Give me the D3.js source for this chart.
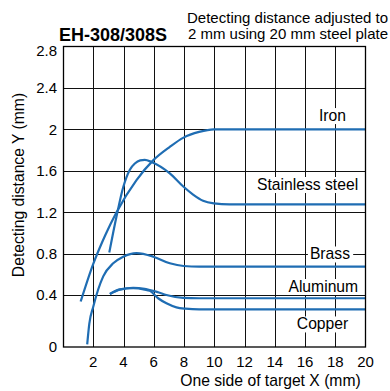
<!DOCTYPE html>
<html>
<head>
<meta charset="utf-8">
<script src="https://cdn.jsdelivr.net/npm/d3@7/dist/d3.min.js"></script>
<style>
  html, body { margin: 0; padding: 0; background: #fff; }
  svg { display: block; }
  text { font-family: "Liberation Sans", Arial, Helvetica, sans-serif; fill: #000; }
</style>
</head>
<body>
<svg id="chart" width="390" height="391"></svg>
<script>
// ---- data ----
const title = "EH-308/308S";
const subtitle = ["Detecting distance adjusted to", "2 mm using 20 mm steel plate"];
const xTitle = "One side of target X (mm)";
const yTitle = "Detecting distance Y (mm)";
const xTicks = [2, 4, 6, 8, 10, 12, 14, 16, 18, 20];
const yTicks = [0, 0.4, 0.8, 1.2, 1.6, 2, 2.4, 2.8];
const yTickLabels = ["0", "0.4", "0.8", "1.2", "1.6", "2", "2.4", "2.8"];
const seriesNames = ["Iron", "Stainless steel", "Brass", "Aluminum", "Copper"];

const iron = [[1.17,0.35],[2,0.70],[2.8,0.98],[3.54,1.20],[4.86,1.51],[5.96,1.70],[7.06,1.83],[7.97,1.92],[9,1.975],[9.97,2.0],[20,2.0]];
const stainless = [[3.06,0.81],[3.54,1.16],[3.98,1.44],[4.42,1.61],[4.75,1.67],[5.1,1.70],[5.41,1.705],[5.85,1.685],[7.06,1.575],[7.97,1.445],[8.6,1.37],[9.26,1.31],[9.97,1.285],[11,1.275],[20,1.275]];
const brass = [[1.6,0.02],[1.74,0.18],[2,0.31],[2.66,0.58],[3.32,0.706],[3.98,0.77],[4.86,0.805],[5.98,0.77],[7.06,0.706],[7.97,0.68],[9,0.675],[20,0.675]];
const aluminum = [[3.1,0.41],[3.76,0.455],[4.64,0.47],[5.4,0.46],[6.29,0.426],[6.84,0.40],[7.94,0.378],[9,0.375],[20,0.375]];
const copper = [[3.1,0.41],[3.76,0.452],[4.64,0.465],[5.4,0.452],[5.74,0.44],[6.29,0.375],[6.84,0.336],[7.5,0.305],[8.1,0.295],[9,0.29],[20,0.29]];
const seriesValues = [iron, stainless, brass, aluminum, copper];
// label anchor points, in data units (x center, y baseline)
const labelX = [17.82, 16.17, 17.65, 17.21, 17.16];
const labelY = [2.08, 1.414, 0.743, 0.429, 0.135];

// ---- layout ----
const svg = d3.select("#chart");
const pLeft = 63, pRight = 365.5, pTop = 46.5, pBottom = 347;
const x = d3.scaleLinear().domain([0, 20]).range([pLeft, pRight]);
// the reference axis has a taller first interval (0 to 0.4)
const y = d3.scaleLinear().domain([0, 0.4, 2.8]).range([pBottom, 295, pTop]);
const blue = "#1f6db3";

// grid
const grid = svg.append("g").attr("shape-rendering", "crispEdges");
grid.selectAll("line.v").data(xTicks.filter(d => d < 20)).join("line")
  .attr("x1", d => Math.round(x(d)) + 0.5).attr("x2", d => Math.round(x(d)) + 0.5)
  .attr("y1", y(2.8)).attr("y2", y(0))
  .attr("stroke", "#111").attr("stroke-width", 1);
grid.selectAll("line.h").data(yTicks.filter(d => d > 0 && d < 2.8)).join("line")
  .attr("y1", d => Math.round(y(d)) + 0.5).attr("y2", d => Math.round(y(d)) + 0.5)
  .attr("x1", x(0)).attr("x2", x(20))
  .attr("stroke", "#111").attr("stroke-width", 1);

// series labels with white backgrounds
const lab = svg.append("g");
seriesNames.forEach((name, i) => {
  const g = lab.append("g");
  const t = g.append("text")
    .attr("x", x(labelX[i])).attr("y", y(labelY[i]))
    .attr("text-anchor", "middle").attr("font-size", 15.7)
    .text(name);
  const b = t.node().getBBox();
  g.insert("rect", "text")
    .attr("x", b.x - 2).attr("y", b.y + 1)
    .attr("width", b.width + 5).attr("height", b.height - 1)
    .attr("fill", "#fff");
});

// curves
const line = d3.line().x(d => x(d[0])).y(d => y(d[1])).curve(d3.curveMonotoneX);
svg.append("g").selectAll("path").data(seriesValues).join("path")
  .attr("d", line)
  .attr("fill", "none").attr("stroke", blue).attr("stroke-width", 2.2)
  .attr("stroke-linecap", "butt");

// border
svg.append("rect")
  .attr("x", pLeft + 0.5).attr("y", pTop).attr("width", pRight - pLeft - 0.5).attr("height", pBottom - pTop)
  .attr("fill", "none").attr("stroke", "#000").attr("stroke-width", 1.3);

// x tick labels
svg.append("g").selectAll("text").data(xTicks).join("text")
  .attr("x", d => x(d)).attr("y", 367)
  .attr("text-anchor", "middle").attr("font-size", 15)
  .text(d => d);

// y tick labels
svg.append("g").selectAll("text").data(yTicks).join("text")
  .attr("x", 57).attr("y", d => y(d) + (d === 2.8 ? 4 : 0))
  .attr("dy", "0.36em")
  .attr("text-anchor", "end").attr("font-size", 15)
  .text((d, i) => yTickLabels[i]);

// axis titles
svg.append("text").attr("x", 270.5).attr("y", 386)
  .attr("text-anchor", "middle").attr("font-size", 15.7).text(xTitle);
svg.append("text")
  .attr("transform", "translate(24,185) rotate(-90)")
  .attr("text-anchor", "middle").attr("font-size", 15.7).text(yTitle);

// titles
svg.append("text").attr("x", 59).attr("y", 40.5)
  .attr("font-size", 18).attr("font-weight", "bold").text(title);
svg.append("text").attr("x", 388).attr("y", 22.7)
  .attr("text-anchor", "end").attr("font-size", 15).text(subtitle[0]);
svg.append("text").attr("x", 388).attr("y", 39.3)
  .attr("text-anchor", "end").attr("font-size", 15).text(subtitle[1]);
</script>
</body>
</html>
